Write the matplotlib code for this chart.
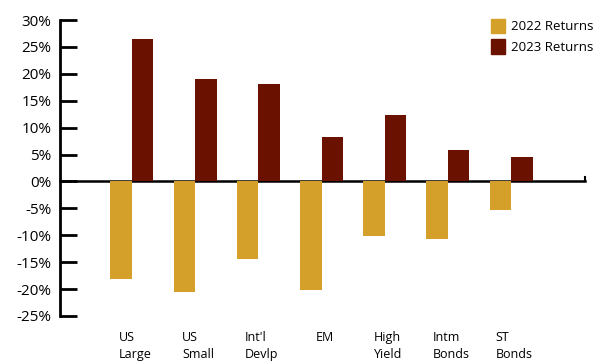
import matplotlib.pyplot as plt
import numpy as np
from matplotlib.patches import Patch

plt.rcParams['font.family'] = ['Open Sans', 'DejaVu Sans']

categories = ["US\nLarge", "US\nSmall", "Int'l\nDevlp", "EM", "High\nYield", "Intm\nBonds", "ST\nBonds"]
returns_2022 = [-18.1, -20.5, -14.5, -20.1, -10.2, -10.7, -5.3]
returns_2023 = [26.5, 19.0, 18.1, 8.3, 12.4, 5.8, 4.6]
y_ticks = [30, 25, 20, 15, 10, 5, 0, -5, -10, -15, -20, -25]

GOLD = "#D4A02A"
MAROON = "#6B1100"


def main():
    fig = plt.figure(figsize=(5.97, 3.64), dpi=100)
    ax = fig.add_axes([0.1005, 0.1319, 0.8794, 0.8131])

    x = np.arange(len(categories))
    w = 0.34
    ax.bar(x - w / 2, returns_2022, width=w, color=GOLD, zorder=1)
    ax.bar(x + w / 2, returns_2023, width=w, color=MAROON, zorder=1)

    ax.set_xlim(-1.139, 7.17)
    ax.set_ylim(-25, 30)

    # spines
    for side in ["top", "right"]:
        ax.spines[side].set_visible(False)
    ax.spines["left"].set_linewidth(2)
    ax.spines["bottom"].set_position(("data", 0))
    ax.spines["bottom"].set_linewidth(1.8)
    ax.spines["bottom"].set_zorder(0)
    # little end tick on the x axis line
    ax.plot([1, 1], [0, 0.8], transform=ax.get_yaxis_transform(),
            color="black", lw=1.5, clip_on=False)

    ax.set_yticks(y_ticks)
    ax.set_yticklabels([f"{t}%" for t in y_ticks])
    ax.tick_params(axis="y", direction="in", length=12, width=2,
                   labelsize=11, pad=6)

    # category labels under the plot
    ax.set_xticks([])
    for xi, lab in zip(x, categories):
        ax.text(xi + 0.05, -27.7, lab, ha="center", va="top", fontsize=9,
                multialignment="left", linespacing=1.4)

    handles = [Patch(color=GOLD, label="2022 Returns"),
               Patch(color=MAROON, label="2023 Returns")]
    fig.legend(handles=handles, loc="upper left",
               bbox_to_anchor=(0.812, 0.967), frameon=False, fontsize=9.5,
               handlelength=1.0, handleheight=1.3, handletextpad=0.5,
               borderpad=0, labelspacing=0.45)

    fig.savefig("out.png", dpi=100)


if __name__ == "__main__":
    main()
